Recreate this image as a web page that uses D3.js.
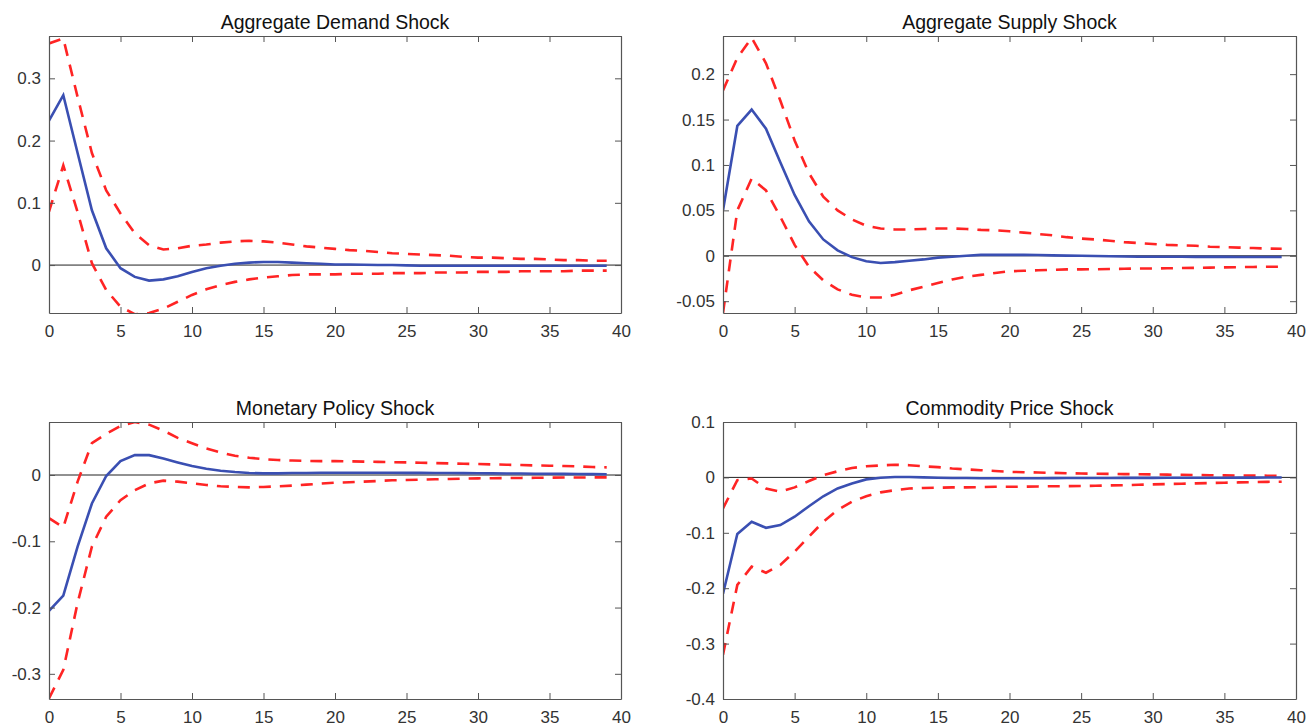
<!DOCTYPE html>
<html>
<head>
<meta charset="utf-8">
<script src="https://cdn.jsdelivr.net/npm/d3@7"></script>
<style>
  body { margin: 0; background: #fff; }
  svg { display: block; font-family: "Liberation Sans", Arial, Helvetica, sans-serif; }
</style>
</head>
<body>
<svg width="1307" height="727"></svg>
<script>
// horizons 0..39
var horizon = d3.range(40);

var titles = ['Aggregate Demand Shock', 'Aggregate Supply Shock', 'Monetary Policy Shock', 'Commodity Price Shock'];

// Aggregate demand shock
var demandMid = [0.232, 0.273, 0.18, 0.088, 0.027, -0.005, -0.019, -0.025, -0.023, -0.018, -0.011, -0.005, -0.001, 0.002, 0.004, 0.005, 0.005, 0.004, 0.003, 0.002, 0.001, 0.001, 0.0005, 0, 0, -0.0005, -0.001, -0.001, -0.001, -0.001, -0.001, -0.001, -0.001, -0.001, -0.001, -0.001, -0.001, -0.001, -0.001, -0.001];
var demandHi = [0.356, 0.364, 0.27, 0.18, 0.12, 0.083, 0.051, 0.032, 0.025, 0.027, 0.031, 0.033, 0.036, 0.038, 0.039, 0.038, 0.036, 0.033, 0.030, 0.028, 0.026, 0.024, 0.023, 0.021, 0.019, 0.018, 0.017, 0.016, 0.015, 0.013, 0.012, 0.012, 0.011, 0.010, 0.010, 0.009, 0.008, 0.008, 0.007, 0.007];
var demandLo = [0.086, 0.16, 0.085, 0.003, -0.04, -0.067, -0.079, -0.077, -0.07, -0.059, -0.048, -0.039, -0.032, -0.027, -0.023, -0.02, -0.018, -0.016, -0.015, -0.015, -0.015, -0.014, -0.014, -0.014, -0.013, -0.013, -0.013, -0.012, -0.012, -0.012, -0.011, -0.011, -0.011, -0.010, -0.010, -0.010, -0.010, -0.009, -0.009, -0.009];

// Aggregate supply shock
var supplyMid = [0.05, 0.143, 0.161, 0.140, 0.103, 0.067, 0.038, 0.018, 0.006, -0.0015, -0.006, -0.008, -0.007, -0.0055, -0.004, -0.002, -0.001, 0, 0.001, 0.001, 0.001, 0.001, 0.0008, 0.0005, 0.0002, 0, -0.0003, -0.0005, -0.0008, -0.001, -0.001, -0.001, -0.001, -0.0012, -0.0012, -0.0012, -0.0013, -0.0013, -0.0013, -0.0013];
var supplyHi = [0.182, 0.218, 0.24, 0.212, 0.171, 0.127, 0.091, 0.065, 0.05, 0.04, 0.033, 0.030, 0.029, 0.029, 0.0295, 0.030, 0.030, 0.0295, 0.0285, 0.028, 0.027, 0.0255, 0.024, 0.0225, 0.0205, 0.019, 0.018, 0.0165, 0.015, 0.014, 0.013, 0.012, 0.0115, 0.011, 0.010, 0.0095, 0.009, 0.0085, 0.008, 0.0077];
var supplyLo = [-0.063, 0.05, 0.085, 0.072, 0.043, 0.012, -0.012, -0.027, -0.037, -0.043, -0.046, -0.046, -0.043, -0.038, -0.034, -0.030, -0.026, -0.023, -0.021, -0.019, -0.017, -0.0165, -0.016, -0.0155, -0.015, -0.015, -0.0148, -0.0145, -0.0143, -0.014, -0.014, -0.0138, -0.0135, -0.0133, -0.013, -0.0128, -0.0125, -0.0123, -0.012, -0.012];

// Monetary policy shock
var policyMid = [-0.205, -0.182, -0.108, -0.043, -0.0015, 0.021, 0.030, 0.030, 0.025, 0.019, 0.0135, 0.0095, 0.0065, 0.0045, 0.003, 0.0025, 0.0025, 0.003, 0.003, 0.0035, 0.0035, 0.0035, 0.0035, 0.0035, 0.0035, 0.0033, 0.0032, 0.003, 0.003, 0.0028, 0.0027, 0.0025, 0.0023, 0.0022, 0.002, 0.0018, 0.0017, 0.0015, 0.0013, 0.0012];
var policyHi = [-0.065, -0.079, -0.01, 0.048, 0.062, 0.074, 0.080, 0.076, 0.067, 0.056, 0.048, 0.040, 0.034, 0.029, 0.026, 0.024, 0.0226, 0.0218, 0.0213, 0.021, 0.021, 0.0206, 0.0202, 0.0198, 0.0194, 0.019, 0.0185, 0.018, 0.0175, 0.017, 0.0166, 0.016, 0.0155, 0.015, 0.0145, 0.014, 0.0135, 0.013, 0.012, 0.0116];
var policyLo = [-0.337, -0.294, -0.193, -0.108, -0.063, -0.038, -0.023, -0.0126, -0.0085, -0.010, -0.0126, -0.015, -0.017, -0.018, -0.0186, -0.018, -0.017, -0.016, -0.0145, -0.013, -0.0116, -0.011, -0.010, -0.009, -0.008, -0.0075, -0.007, -0.0065, -0.006, -0.0055, -0.005, -0.0048, -0.0046, -0.0044, -0.0042, -0.004, -0.0038, -0.0037, -0.0036, -0.0035];

// Commodity price shock
var commodMid = [-0.210, -0.102, -0.080, -0.091, -0.086, -0.071, -0.052, -0.034, -0.020, -0.011, -0.0036, -0.0006, 0.0006, 0.0006, 0, -0.0006, -0.001, -0.0012, -0.0014, -0.0015, -0.0015, -0.0015, -0.0014, -0.0013, -0.0012, -0.0011, -0.001, -0.001, -0.0009, -0.0008, -0.0008, -0.0007, -0.0006, -0.0006, -0.0005, -0.0005, -0.0004, -0.0004, -0.0003, -0.0003];
var commodHi = [-0.056, -0.005, -0.002, -0.020, -0.026, -0.018, -0.0066, 0.004, 0.011, 0.017, 0.020, 0.0216, 0.0228, 0.022, 0.020, 0.0186, 0.016, 0.0144, 0.013, 0.0115, 0.010, 0.0094, 0.0088, 0.0082, 0.0076, 0.007, 0.0067, 0.0064, 0.006, 0.0057, 0.0054, 0.005, 0.0047, 0.0044, 0.004, 0.0036, 0.0034, 0.0032, 0.0031, 0.003];
var commodLo = [-0.320, -0.194, -0.161, -0.172, -0.158, -0.134, -0.107, -0.080, -0.059, -0.044, -0.034, -0.027, -0.023, -0.020, -0.019, -0.0186, -0.018, -0.018, -0.0175, -0.017, -0.017, -0.0167, -0.0163, -0.016, -0.0158, -0.0156, -0.015, -0.0145, -0.014, -0.0133, -0.0126, -0.012, -0.0114, -0.0108, -0.0102, -0.0096, -0.009, -0.0085, -0.008, -0.0078];

var xTicks = [0, 5, 10, 15, 20, 25, 30, 35, 40];
var yTicks = [
  [0, 0.1, 0.2, 0.3],
  [-0.05, 0, 0.05, 0.1, 0.15, 0.2],
  [-0.3, -0.2, -0.1, 0],
  [-0.4, -0.3, -0.2, -0.1, 0, 0.1]
];
var yDomains = [[-0.077, 0.368], [-0.063, 0.242], [-0.338, 0.08], [-0.4, 0.1]];

var mids = [demandMid, supplyMid, policyMid, commodMid];
var his = [demandHi, supplyHi, policyHi, commodHi];
var los = [demandLo, supplyLo, policyLo, commodLo];

// panel boxes [left, top, right, bottom]
var boxes = [[49, 36, 621, 313], [723, 36, 1296, 313], [49, 422, 621, 699], [723, 422, 1296, 699]];

var svg = d3.select('svg');
var axisCol = '#555', textCol = '#333';
// matlab style labels, plain hyphen for minus
var fmt = function(d) { return String(+d.toFixed(3)); };

boxes.forEach(function(b, i) {
  var x = d3.scaleLinear().domain([0, 40]).range([b[0], b[2]]);
  var y = d3.scaleLinear().domain(yDomains[i]).range([b[3], b[1]]);
  var g = svg.append('g');

  g.append('clipPath').attr('id', 'clip' + i)
    .append('rect').attr('x', b[0]).attr('y', b[1]).attr('width', b[2] - b[0]).attr('height', b[3] - b[1]);

  // zero line
  g.append('line')
    .attr('x1', x(0)).attr('x2', x(40)).attr('y1', y(0)).attr('y2', y(0))
    .attr('stroke', '#222').attr('stroke-width', 1);

  var line = d3.line().x(function(d, j) { return x(horizon[j]); }).y(function(d) { return y(d); });
  var plot = g.append('g').attr('clip-path', 'url(#clip' + i + ')');

  [his[i], los[i]].forEach(function(s) {
    plot.append('path').datum(s).attr('d', line)
      .attr('fill', 'none').attr('stroke', '#ff2424').attr('stroke-width', 2.6)
      .attr('stroke-dasharray', '12,9');
  });
  plot.append('path').datum(mids[i]).attr('d', line)
    .attr('fill', 'none').attr('stroke', '#3a4fb2').attr('stroke-width', 2.6);

  // axes: ticks pointing inward, labels only on bottom/left
  var bottom = g.append('g').attr('transform', 'translate(0,' + b[3] + ')')
    .call(d3.axisBottom(x).tickValues(xTicks).tickSizeInner(-6).tickSizeOuter(0).tickPadding(12).tickFormat(fmt));
  var top = g.append('g').attr('transform', 'translate(0,' + b[1] + ')')
    .call(d3.axisTop(x).tickValues(xTicks).tickSizeInner(-6).tickSizeOuter(0).tickFormat(''));
  var left = g.append('g').attr('transform', 'translate(' + b[0] + ',0)')
    .call(d3.axisLeft(y).tickValues(yTicks[i]).tickSizeInner(-6).tickSizeOuter(0).tickPadding(8).tickFormat(fmt));
  var right = g.append('g').attr('transform', 'translate(' + b[2] + ',0)')
    .call(d3.axisRight(y).tickValues(yTicks[i]).tickSizeInner(-6).tickSizeOuter(0).tickFormat(''));

  [bottom, top, left, right].forEach(function(a) {
    a.select('.domain').attr('stroke', axisCol).attr('stroke-width', 1.2);
    a.selectAll('.tick line').attr('stroke', axisCol);
    a.selectAll('.tick text').attr('fill', textCol).style('font-size', '17px')
      .style('font-family', '"Liberation Sans", Arial, sans-serif');
  });

  g.append('text')
    .attr('x', (b[0] + b[2]) / 2).attr('y', b[1] - 7)
    .attr('text-anchor', 'middle').attr('fill', '#111')
    .style('font-size', '19.5px')
    .text(titles[i]);
});
</script>
</body>
</html>
